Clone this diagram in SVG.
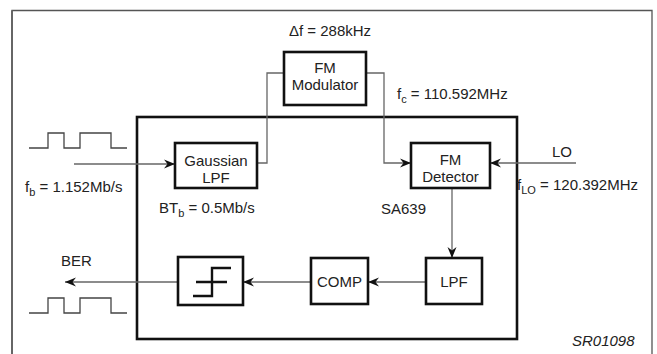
<svg xmlns="http://www.w3.org/2000/svg" width="657" height="354" viewBox="0 0 657 354">
<defs>
<style>
.t{font-family:"Liberation Sans",Arial,sans-serif;font-size:15px;fill:#222}
.m{text-anchor:middle}
.s{font-size:11px}
.box{fill:#fff;stroke:#111;stroke-width:2.6}
.ln{fill:none;stroke:#666;stroke-width:1.3}
.frame{fill:none;stroke:#555;stroke-width:1.3}
</style>
<marker id="ah" viewBox="0 0 12 10" refX="11" refY="5" markerWidth="12" markerHeight="10" markerUnits="userSpaceOnUse" orient="auto">
<path d="M11,5 L0,0.5 L3.5,5 L0,9.5 Z" fill="#111"/>
</marker>
</defs>
<rect width="657" height="354" fill="#fff"/>
<g id="frame">
<path class="frame" d="M12,354 V10.5 H652 V354"/>
<path d="M12,354 V10.5" stroke="#666" stroke-width="2" fill="none"/>
</g>
<g id="sa639">
<rect class="box" x="137" y="117" width="380" height="222" fill="none" style="fill:none"/>
<text class="t" x="381" y="214">SA639</text>
</g>
<g id="connectors">
<path class="ln" d="M74,164 H175" marker-end="url(#ah)"/>
<path class="ln" d="M257,163 H267 V73 H284"/>
<path class="ln" d="M366,73 H384 V163 H411" marker-end="url(#ah)"/>
<path class="ln" d="M576,163 H490" marker-end="url(#ah)"/>
<path class="ln" d="M452,188 V258" marker-end="url(#ah)"/>
<path class="ln" d="M426,282 H368" marker-end="url(#ah)"/>
<path class="ln" d="M311,282 H243" marker-end="url(#ah)"/>
<path class="ln" d="M178,282 H65" marker-end="url(#ah)"/>
</g>
<g id="input-wave">
<path d="M29,148 H48 V133 H64 V148 H80 V133 H111 V148 H127" fill="none" stroke="#444" stroke-width="1.3"/>
<text class="t" x="25" y="192">f<tspan class="s" dy="4">b</tspan><tspan dy="-4"> = 1.152Mb/s</tspan></text>
</g>
<g id="output-wave">
<path d="M29,313 H48 V298 H64 V313 H80 V298 H111 V313 H127" fill="none" stroke="#444" stroke-width="1.3"/>
<text class="t" x="61" y="266">BER</text>
</g>
<g id="gaussian-lpf">
<rect class="box" x="175" y="143" width="82" height="45"/>
<text class="t m" x="216" y="166">Gaussian</text>
<text class="t m" x="216" y="183">LPF</text>
<text class="t" x="159" y="213">BT<tspan class="s" dy="4">b</tspan><tspan dy="-4"> = 0.5Mb/s</tspan></text>
</g>
<g id="fm-modulator">
<rect class="box" x="284" y="52" width="82" height="53"/>
<text class="t m" x="325" y="73">FM</text>
<text class="t m" x="325" y="90">Modulator</text>
<text class="t m" x="330" y="36">Δf = 288kHz</text>
<text class="t" x="397" y="99">f<tspan class="s" dy="4">c</tspan><tspan dy="-4"> = 110.592MHz</tspan></text>
</g>
<g id="fm-detector">
<rect class="box" x="411" y="143" width="79" height="45"/>
<text class="t m" x="450.5" y="165">FM</text>
<text class="t m" x="450.5" y="182">Detector</text>
</g>
<g id="lo">
<text class="t" x="552" y="157">LO</text>
<text class="t" x="517" y="190">f<tspan class="s" dy="4">LO</tspan><tspan dy="-4"> = 120.392MHz</tspan></text>
</g>
<g id="lpf">
<rect class="box" x="426" y="258" width="56" height="46"/>
<text class="t m" x="454" y="287">LPF</text>
</g>
<g id="comp">
<rect class="box" x="311" y="258" width="57" height="46"/>
<text class="t m" x="339.5" y="287">COMP</text>
</g>
<g id="slicer">
<rect class="box" x="178" y="257" width="65" height="48"/>
<path d="M193,296 H212 V268 H231 M196,282 H227" fill="none" stroke="#111" stroke-width="2.4"/>
</g>
<g id="label">
<text class="t" x="572" y="346" font-style="italic" font-size="14">SR01098</text>
</g>
</svg>
